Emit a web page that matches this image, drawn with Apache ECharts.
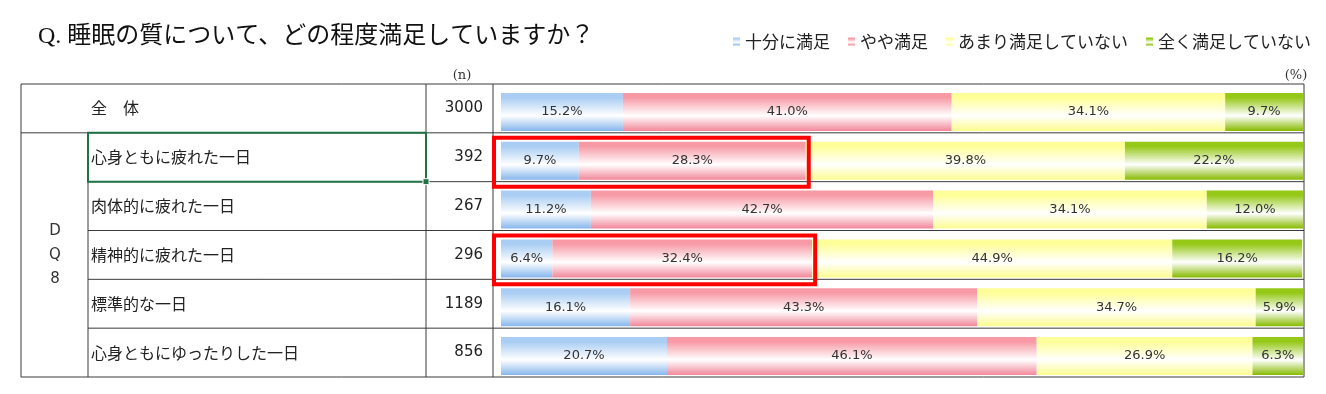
<!DOCTYPE html>
<html><head><meta charset="utf-8">
<script src="https://cdn.jsdelivr.net/npm/echarts@6/dist/echarts.min.js"></script>
<style>html,body{margin:0;padding:0;background:#fff}#c{width:1326px;height:394px}</style>
</head><body><div id="c"></div>
<script>
const titleText = 'Q. 睡眠の質について、どの程度満足していますか？';
const categories = ['全　体','心身ともに疲れた一日','肉体的に疲れた一日','精神的に疲れた一日','標準的な一日','心身ともにゆったりした一日'];
const nValues = ['3000','392','267','296','1189','856'];
const seriesNames = ['十分に満足','やや満足','あまり満足していない','全く満足していない'];
const v1 = [15.2, 9.7, 11.2, 6.4, 16.1, 20.7];
const v2 = [41.0, 28.3, 42.7, 32.4, 43.3, 46.1];
const v3 = [34.1, 39.8, 34.1, 44.9, 34.7, 26.9];
const v4 = [9.7, 22.2, 12.0, 16.2, 5.9, 6.3];
const groupLabel = 'D\nQ\n8';
const highlightRows = [1, 3];

const chart = echarts.init(document.getElementById('c'));
const grad = (top, bottom) => new echarts.graphic.LinearGradient(0, 0, 0, 1, [
  {offset: 0, color: top}, {offset: 0.12, color: top}, {offset: 0.6, color: '#ffffff'}, {offset: 1, color: bottom}
]);
const colors = [
  grad('#a9cdf3', '#86b6ec'),
  grad('#f79aa6', '#f2879a'),
  grad('#ffff99', '#fcfc90'),
  grad('#95c817', '#86ba00')
];
const vals = [v1, v2, v3, v4];

const L = 501, W = 802, T = 84, H = 293;
const series = seriesNames.map((name, i) => ({
  name, type: 'bar', stack: 'all', xAxisIndex: 1, yAxisIndex: 2,
  barWidth: 38, data: vals[i],
  itemStyle: {color: colors[i]},
  label: {show: true, position: 'inside', color: '#333', fontSize: 13,
    fontFamily: 'DejaVu Sans', formatter: p => p.value.toFixed(1) + '%'}
}));

const font = '"Noto Sans CJK JP", sans-serif';
chart.setOption({
  animation: false,
  title: {text: titleText, left: 33, top: 20,
    textStyle: {fontSize: 24, fontWeight: 'normal', color: '#111', fontFamily: '"Liberation Serif", "Noto Sans CJK JP", serif'}},
  legend: {left: 728, top: 28, icon: 'rect', itemWidth: 7, itemHeight: 8, itemGap: 18, itemTextGap: 4,
    textStyle: {fontSize: 17, color: '#222', fontFamily: font}, data: seriesNames},
  grid: [
    {left: L, width: W, top: T, height: H},
    {left: L, width: W, top: T + 3.5, height: H}
  ],
  xAxis: [
    {type: 'value', gridIndex: 0, min: 0, max: 100, show: false},
    {type: 'value', gridIndex: 1, min: 0, max: 100, show: false}
  ],
  yAxis: [
    {type: 'category', gridIndex: 0, position: 'left', offset: 0, inverse: true, data: categories,
      axisLine: {show: false}, axisTick: {show: false}, splitLine: {show: false},
      axisLabel: {align: 'left', margin: 410, fontSize: 16, color: '#222', fontFamily: font}},
    {type: 'category', gridIndex: 0, position: 'left', offset: 0, inverse: true, data: nValues,
      axisLine: {show: false}, axisTick: {show: false}, splitLine: {show: false},
      axisLabel: {align: 'right', margin: 18, fontSize: 15, color: '#222', fontFamily: 'DejaVu Sans'}},
    {type: 'category', gridIndex: 1, inverse: true, data: categories, show: false}
  ],
  series
});

// table frame and annotations
const n = categories.length, rowH = H / n;
const lineStyle = {stroke: '#3a3a3a', lineWidth: 1};
const g = [];
const hl = (x1, x2, y) => g.push({type: 'line', shape: {x1, y1: y, x2, y2: y}, style: lineStyle, silent: true});
const vl = (x, y1, y2) => g.push({type: 'line', shape: {x1: x, y1, x2: x, y2}, style: lineStyle, silent: true});
hl(21, 1304, T); hl(21, 1304, T + H); hl(21, 1304, T + rowH);
for (let i = 2; i < n; i++) hl(88, 1304, T + rowH * i);
vl(21, T, T + H); vl(88, T + rowH, T + H); vl(426, T, T + H); vl(493, T, T + H); vl(1304, T, T + H);
g.push({type: 'text', x: 462, y: 76, style: {text: '(n)', fontSize: 13, fill: '#333', align: 'center', verticalAlign: 'middle', fontFamily: 'DejaVu Serif'}});
g.push({type: 'text', x: 1296, y: 76, style: {text: '(%)', fontSize: 13, fill: '#333', align: 'center', verticalAlign: 'middle', fontFamily: 'DejaVu Serif'}});
g.push({type: 'text', x: 55, y: T + rowH + (H - rowH) / 2, style: {text: groupLabel, fontSize: 15, lineHeight: 24, fill: '#333', align: 'center', verticalAlign: 'middle', fontFamily: 'DejaVu Sans'}});
// Excel selection box
g.push({type: 'rect', shape: {x: 88, y: T + rowH, width: 338, height: rowH}, style: {fill: 'none', stroke: '#217346', lineWidth: 2}, silent: true});
g.push({type: 'rect', shape: {x: 423, y: T + 2 * rowH - 3, width: 6, height: 6}, style: {fill: '#217346', stroke: '#fff', lineWidth: 1}, silent: true});
// red annotation boxes around the first two segments
highlightRows.forEach(r => {
  const xr = chart.convertToPixel({xAxisIndex: 1}, v1[r] + v2[r]);
  const y0 = T + rowH * r;
  g.push({type: 'rect', shape: {x: 494, y: y0 + 5, width: xr + 3 - 494, height: rowH}, style: {fill: 'none', stroke: '#ff0000', lineWidth: 4}, silent: true, z: 100});
});
chart.setOption({graphic: g});
</script></body></html>
